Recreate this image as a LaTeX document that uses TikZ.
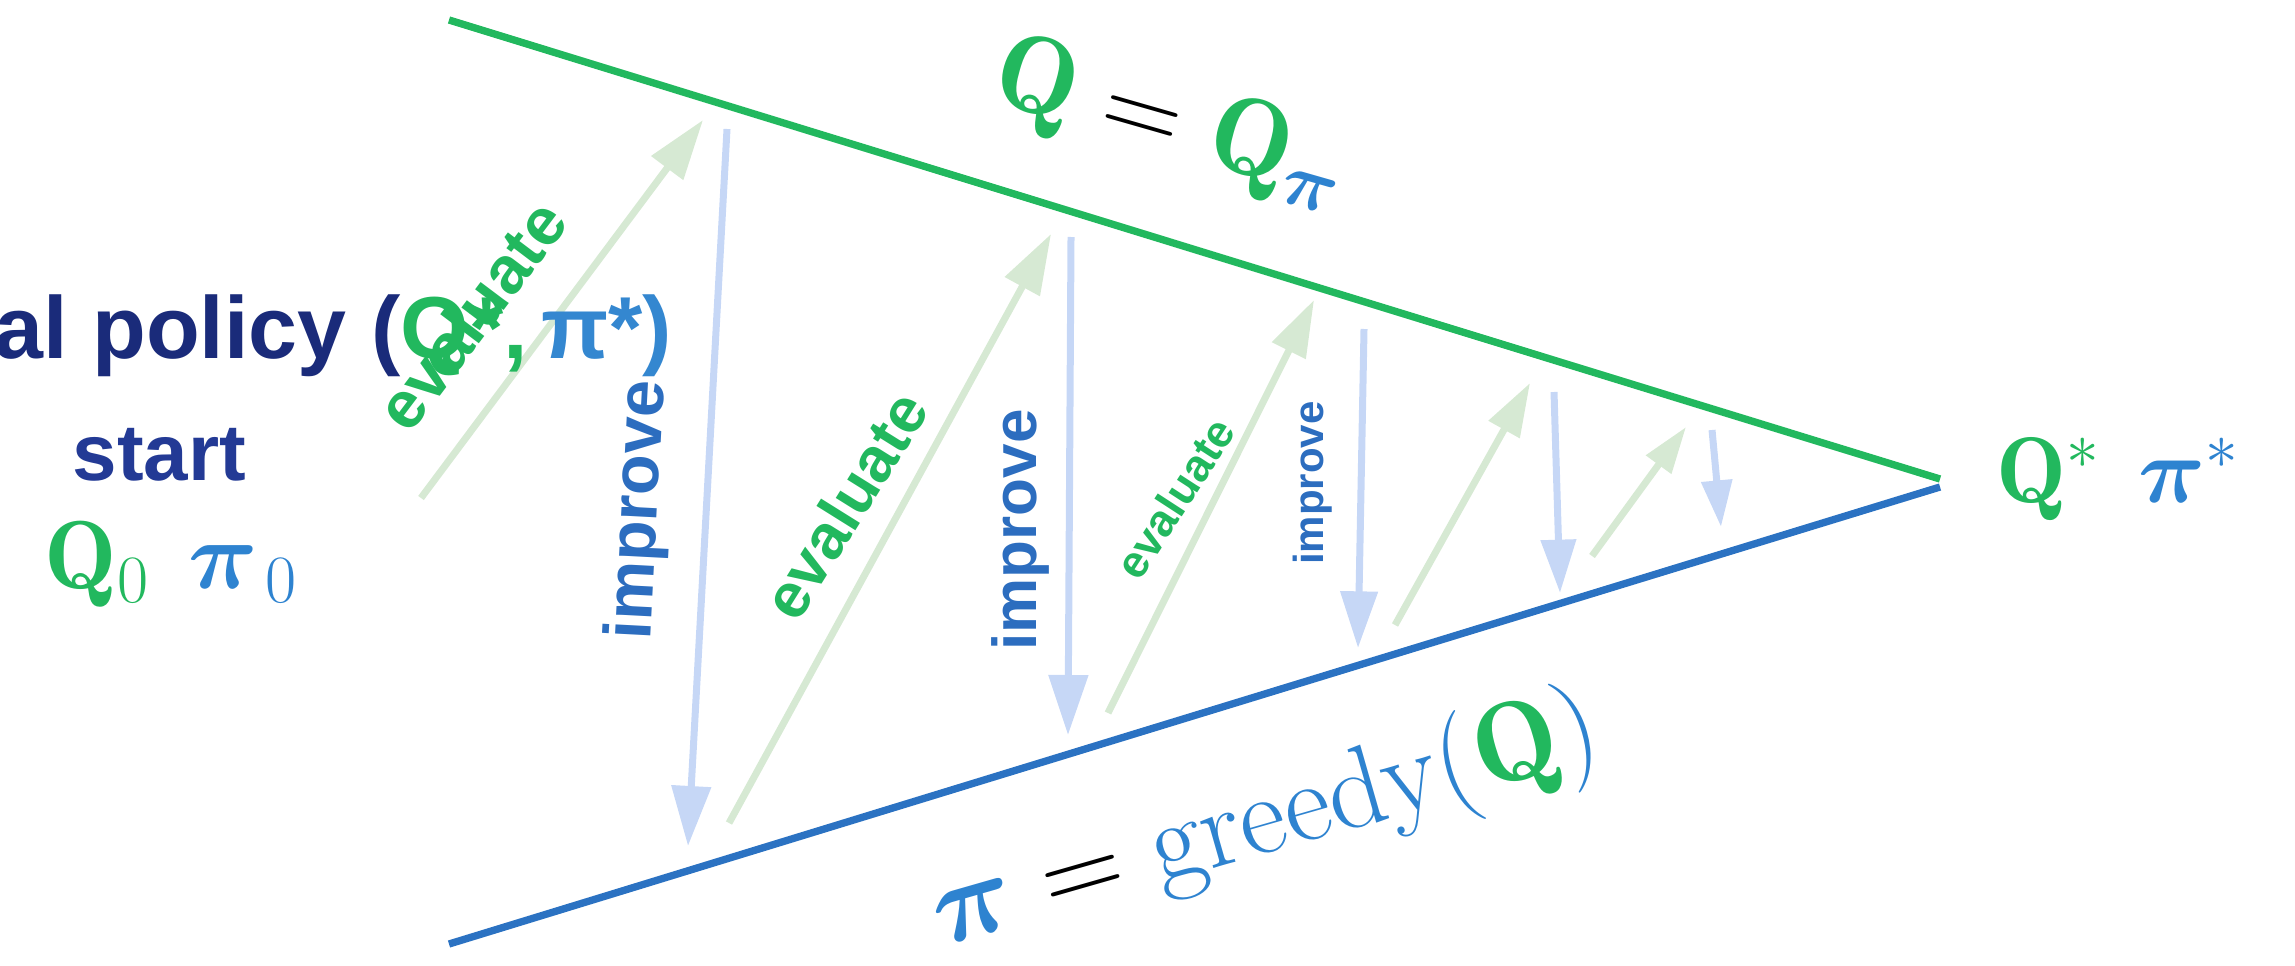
\RequirePackage{fix-cm}
\documentclass[tikz,border=0pt]{standalone}
\usepackage{fontspec}
\usepackage{amsmath,bm}
\usetikzlibrary{arrows.meta}
\newfontfamily\hv{Liberation Sans}
\definecolor{qg}{HTML}{22B85E}
\definecolor{lineblue}{HTML}{2B72C2}
\definecolor{lgreen}{HTML}{D6E9D3}
\definecolor{lblue}{HTML}{C6D7F6}
\definecolor{impblue}{HTML}{2C6DBF}
\definecolor{navy}{HTML}{1A2B7A}
\definecolor{navytwo}{HTML}{233A95}
\definecolor{pb}{HTML}{2E83D0}
\definecolor{titleblue}{HTML}{3487D0}
\tikzset{
  mainline/.style={line width=2.2pt},
  evalarrow/.style={draw=lgreen, line width=2.1pt, -{Triangle[length=#1, width=0.64*#1]}},
  imparrow/.style={draw=lblue, line width=2.1pt, -{Triangle[length=#1, width=0.64*#1]}},
  evaltext/.style={text=qg, inner sep=0pt, font=\hv\bfseries\fontsize{#1}{#1}\selectfont},
  imptext/.style={text=impblue, inner sep=0pt, font=\hv\bfseries\fontsize{#1}{#1}\selectfont},
  mathlabel/.style={inner sep=0pt, font=\fontsize{#1}{#1}\selectfont}
}
\begin{document}
\begin{tikzpicture}[x=0.3pt,y=-0.3pt]
\useasboundingbox (0,0) rectangle (2295,965);
% triangle
\coordinate (gtop) at (449,20);
\coordinate (apexg) at (1940,479);
\coordinate (btop) at (449,944);
\coordinate (apexb) at (1940,487);
\draw[mainline, draw=qg] (gtop) -- (apexg);
\draw[mainline, draw=lineblue] (btop) -- (apexb);
% arrows
\coordinate (e1s) at (421,498);  \coordinate (e1e) at (703,120);
\coordinate (i1s) at (727,129);  \coordinate (i1e) at (688,846);
\coordinate (e2s) at (729,823);  \coordinate (e2e) at (1051,234);
\coordinate (i2s) at (1071,237); \coordinate (i2e) at (1068,735);
\coordinate (e3s) at (1108,713); \coordinate (e3e) at (1314,300);
\coordinate (i3s) at (1364,329); \coordinate (i3e) at (1358,648);
\coordinate (e4s) at (1395,625); \coordinate (e4e) at (1530,383);
\coordinate (i4s) at (1554,392); \coordinate (i4e) at (1560,593);
\coordinate (e5s) at (1592,556); \coordinate (e5e) at (1686,427);
\coordinate (i5s) at (1712,430); \coordinate (i5e) at (1721,527);
\draw[evalarrow=18pt] (e1s) -- (e1e);
\draw[imparrow=18pt] (i1s) -- (i1e);
\draw[evalarrow=18pt] (e2s) -- (e2e);
\draw[imparrow=18pt] (i2s) -- (i2e);
\draw[evalarrow=17pt] (e3s) -- (e3e);
\draw[imparrow=17pt] (i3s) -- (i3e);
\draw[evalarrow=16pt] (e4s) -- (e4e);
\draw[imparrow=16pt] (i4s) -- (i4e);
\draw[evalarrow=14pt] (e5s) -- (e5e);
\draw[imparrow=14pt] (i5s) -- (i5e);
% left texts
\node[anchor=base west, inner sep=0pt, font=\hv\bfseries\fontsize{26.4}{30}\selectfont] (title) at (-6,358)
  {\textcolor{navy}{al policy (}\textcolor{qg}{Q*,}\hspace{4pt}\textcolor{titleblue}{π*)}};
\node[anchor=base west, inner sep=0pt, text=navytwo, font=\hv\bfseries\fontsize{24}{28}\selectfont] (start) at (72,480) {start};
\node[anchor=base west, mathlabel=29] (q0) at (44,588)
  {$\textcolor{qg}{\mathbf{Q}_0}\hspace{0.4em}\textcolor{pb}{\bm{\pi}_{\,0}}$};
% arrow labels
\node[evaltext=20, rotate=53] (ev1) at (471,315) {evaluate};
\node[imptext=20, rotate=87] (im1) at (640,510) {improve};
\node[evaltext=19, rotate=58] (ev2) at (845,505) {evaluate};
\node[imptext=18.6, rotate=90] (im2) at (1020,530) {improve};
\node[evaltext=13.5, rotate=57] (ev3) at (1175,498) {evaluate};
\node[imptext=12.6, rotate=90] (im3) at (1313,483) {improve};
% math labels
\node[mathlabel=33, rotate=-16] (qlab) at (1170,124)
  {$\textcolor{qg}{\mathbf{Q}} = \textcolor{qg}{\mathbf{Q}}_{\textcolor{pb}{\bm{\pi}}}$};
\node[mathlabel=34, rotate=16] (glab) at (1266,824)
  {$\textcolor{pb}{\bm{\pi}} = \textcolor{pb}{\mathrm{greedy}(}\textcolor{qg}{\mathbf{Q}}\textcolor{pb}{)}$};
\node[anchor=base west, mathlabel=28] (star) at (1996,502)
  {$\textcolor{qg}{\mathbf{Q}^{*}}\hspace{0.4em}\textcolor{pb}{\bm{\pi}^{*}}$};
\end{tikzpicture}
\end{document}
